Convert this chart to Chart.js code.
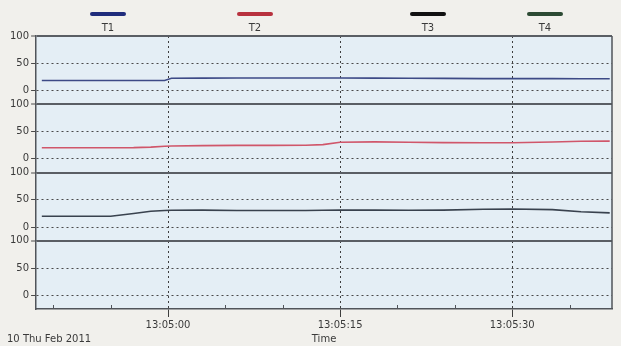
<!DOCTYPE html>
<html>
<head>
<meta charset="utf-8">
<script src="https://cdn.jsdelivr.net/npm/chart.js@4"></script>
<style>
  html, body { margin: 0; padding: 0; background: #f1f0ec; }
  #wrap { width: 621px; height: 346px; position: relative; }
</style>
</head>
<body>
<div id="wrap"><canvas id="chart"></canvas></div>
<script>
// series info
const seriesNames = ['T1', 'T2', 'T3', 'T4'];
const legendColors = ['#1f2c7c', '#b8323f', '#111111', '#2c4a34'];
const lineColors = ['#3d4a86', '#d0566a', '#39424e', '#2c4a34'];

// seconds relative to 13:05:00
const startTime = 13 * 3600 + 5 * 60;
const times = [-11, -8, -5, -3, -1.5, -0.3, 0.3, 3, 6, 9, 12, 13.5, 15, 18, 21, 24, 27.5, 30, 33.5, 36, 38.5];
const t1Values = [18.6, 18.6, 18.6, 18.6, 18.6, 18.6, 22.5, 22.8, 23, 23, 23, 23, 23, 22.8, 22.5, 22.3, 22, 22, 22, 21.8, 21.8];
const t2Values = [20.4, 20.4, 20.4, 20.6, 21.5, 23, 23.5, 24.3, 24.6, 24.6, 24.8, 26, 30.5, 31, 30.5, 29.8, 29.6, 29.6, 30.8, 32.3, 32.5];
const t3Values = [19.9, 19.9, 20, 25, 29, 30.5, 30.8, 31, 30.5, 30.3, 30.5, 30.8, 31, 31, 30.8, 31, 32.8, 33.2, 32, 28, 26];
const t4Values = [];

const yTicks = [0, 50, 100];
const xMin = startTime - 11.5;
const xMax = startTime + 38.7;
const xTitle = 'Time';
const dateLabel = '10 Thu Feb 2011';

const allValues = [t1Values, t2Values, t3Values, t4Values];

function fmtTime(s) {
    const h = Math.floor(s / 3600);
    const m = Math.floor((s % 3600) / 60);
    const sec = Math.round(s % 60);
    const pad = n => String(n).padStart(2, '0');
    return pad(h) + ':' + pad(m) + ':' + pad(sec);
}

function isMajor(v) {
    return Math.round(v) % 15 === 0;
}

Chart.defaults.font.family = 'DejaVu Sans';
Chart.defaults.font.size = 10;
Chart.defaults.color = '#3a3a3a';

const datasets = seriesNames.map(function (name, i) {
    return {
        label: name,
        data: allValues[i].map((v, j) => ({ x: startTime + times[j], y: v })),
        borderColor: lineColors[i],
        backgroundColor: legendColors[i],
        borderWidth: 1.6,
        pointRadius: 0,
        tension: 0,
        yAxisID: 'y' + (i + 1)
    };
});

function panelAxis() {
    return {
        type: 'linear',
        position: 'left',
        stack: 'panels',
        stackWeight: 1,
        min: -25,
        max: 100,
        afterBuildTicks: function (axis) {
            axis.ticks = yTicks.map(v => ({ value: v }));
        },
        ticks: { padding: 2, color: '#3a3a3a' },
        grid: {
            tickLength: 5,
            color: ctx => (ctx.tick && ctx.tick.value === 100) ? '#5a5e64' : '#4a4a4a',
            lineWidth: ctx => (ctx.tick && ctx.tick.value === 100) ? 2 : 1,
            tickColor: '#4a4a4a',
            tickWidth: 1
        },
        border: {
            color: '#50545a',
            width: 1.5,
            dash: ctx => (ctx.tick && ctx.tick.value !== 100) ? [2, 3] : []
        }
    };
}

// plot background, frame, minor x ticks, legend and date text
const decorations = {
    id: 'decorations',
    beforeDraw(chart) {
        const { ctx, chartArea: a } = chart;
        ctx.save();
        ctx.fillStyle = '#e4eef5';
        ctx.fillRect(a.left, a.top, a.right - a.left, a.bottom - a.top);
        ctx.restore();
    },
    afterDatasetsDraw(chart) {
        const { ctx, chartArea: a } = chart;
        const xs = chart.scales.x;
        ctx.save();
        ctx.strokeStyle = '#50545a';
        ctx.lineWidth = 1.5;
        ctx.beginPath();
        ctx.moveTo(a.right, a.top);
        ctx.lineTo(a.right, a.bottom);
        ctx.stroke();
        ctx.lineWidth = 1;
        xs.ticks.forEach(function (t) {
            if (isMajor(t.value)) return;
            const px = Math.round(xs.getPixelForValue(t.value)) + 0.5;
            ctx.beginPath();
            ctx.moveTo(px, a.bottom);
            ctx.lineTo(px, a.bottom - 4);
            ctx.stroke();
        });
        ctx.restore();
    },
    afterDraw(chart) {
        const { ctx } = chart;
        const legendX = [108, 255, 428, 545];
        ctx.save();
        chart.data.datasets.forEach(function (ds, i) {
            ctx.strokeStyle = ds.backgroundColor;
            ctx.lineWidth = 4;
            ctx.lineCap = 'round';
            ctx.beginPath();
            ctx.moveTo(legendX[i] - 16, 14);
            ctx.lineTo(legendX[i] + 16, 14);
            ctx.stroke();
            ctx.fillStyle = '#3a3a3a';
            ctx.font = '10px "DejaVu Sans"';
            ctx.textAlign = 'center';
            ctx.textBaseline = 'middle';
            ctx.fillText(ds.label, legendX[i], 28);
        });
        ctx.textAlign = 'left';
        ctx.fillText(dateLabel, 7, 339);
        ctx.restore();
    }
};

const ctx = document.getElementById('chart');

new Chart(ctx, {
    type: 'line',
    data: { datasets: datasets },
    options: {
        responsive: true,
        maintainAspectRatio: false,
        animation: false,
        layout: { padding: { top: 36, left: 8, right: 9, bottom: 1 } },
        plugins: {
            legend: { display: false },
            tooltip: { enabled: false }
        },
        scales: {
            x: {
                type: 'linear',
                min: xMin,
                max: xMax,
                afterBuildTicks: function (axis) {
                    const ticks = [];
                    for (let v = Math.ceil(xMin / 5) * 5; v <= xMax; v += 5) {
                        ticks.push({ value: v });
                    }
                    axis.ticks = ticks;
                },
                ticks: {
                    autoSkip: false,
                    maxRotation: 0,
                    padding: 2,
                    color: '#3a3a3a',
                    callback: v => isMajor(v) ? fmtTime(v) : ''
                },
                grid: {
                    tickLength: 8,
                    color: ctx => (ctx.tick && isMajor(ctx.tick.value)) ? '#3e3e3e' : 'rgba(0,0,0,0)',
                    tickColor: ctx => (ctx.tick && isMajor(ctx.tick.value)) ? '#3e3e3e' : 'rgba(0,0,0,0)',
                    lineWidth: 1
                },
                border: {
                    color: '#50545a',
                    width: 1.5,
                    dash: ctx => ctx.tick ? [2, 3] : []
                },
                title: {
                    display: true,
                    text: xTitle,
                    color: '#3a3a3a',
                    padding: { top: 0, bottom: 0 }
                }
            },
            // the first panel axis in the stack is drawn at the bottom
            y4: panelAxis(),
            y3: panelAxis(),
            y2: panelAxis(),
            y1: panelAxis()
        }
    },
    plugins: [decorations]
});
</script>
</body>
</html>
